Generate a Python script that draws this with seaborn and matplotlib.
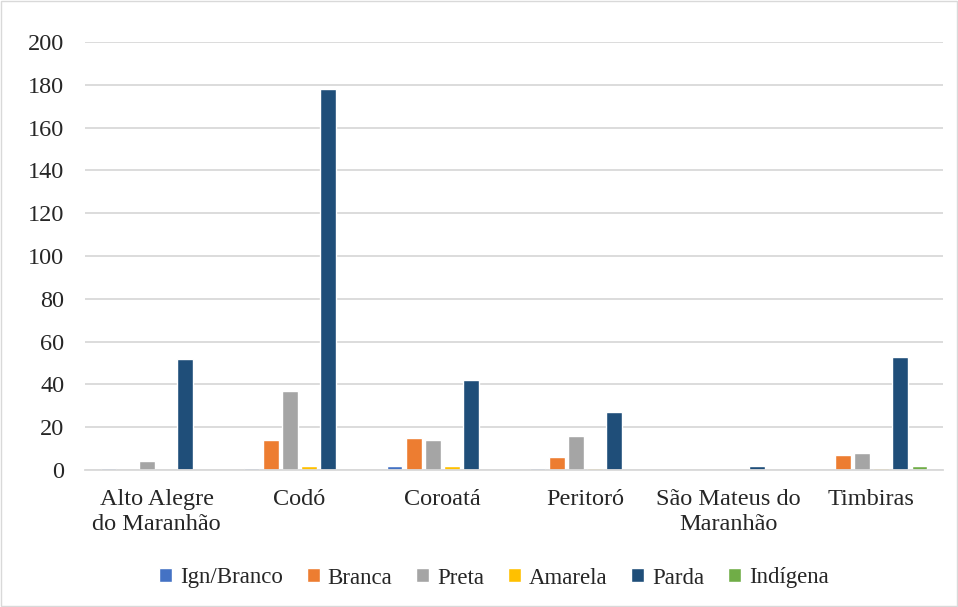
import matplotlib
matplotlib.use("Agg")
import matplotlib.pyplot as plt
import seaborn as sns
import pandas as pd
from matplotlib.patches import Rectangle

municipios = ["Alto Alegre\ndo Maranhão", "Codó", "Coroatá", "Peritoró",
              "São Mateus do\nMaranhão", "Timbiras"]
racas = ["Ign/Branco", "Branca", "Preta", "Amarela", "Parda", "Indígena"]
ign_branco = [1, 1, 2, 1, 0, 0]
branca = [0, 14, 15, 6, 0, 7]
preta = [4, 37, 14, 16, 0, 8]
amarela = [0, 2, 2, 1, 0, 1]
parda = [52, 178, 42, 27, 2, 53]
indigena = [0, 0, 0, 0, 0, 2]
yticks = list(range(0, 201, 20))

cores = ["#4472C4", "#ED7D31", "#A5A5A5", "#FFC000", "#1F4E79", "#70AD47"]

series = [ign_branco, branca, preta, amarela, parda, indigena]
rows = []
for r, vals in zip(racas, series):
    for m, v in zip(municipios, vals):
        rows.append({"Município": m, "Raça": r, "Valor": v})
df = pd.DataFrame(rows)

sns.set_theme(style="white")
plt.rcParams['font.family'] = ['Liberation Serif', 'DejaVu Serif']

FS = 17.5
fig = plt.figure(figsize=(9.58, 6.07), dpi=100)
ax = fig.add_axes([85/958, 137/607, 858/958, 428/607])
sns.barplot(data=df, x="Município", y="Valor", hue="Raça", order=municipios,
            hue_order=racas, palette=cores, width=0.8, gap=0.2, ax=ax,
            saturation=1, errorbar=None, legend=True)

ax.set_ylim(0, 200)
ax.set_yticks(yticks)
ax.set_yticklabels([str(t) for t in yticks], fontsize=FS)
ax.set_xlim(-0.5, len(municipios) - 0.5)
ax.yaxis.grid(True, color="#D9D9D9", linewidth=1.3)
ax.set_axisbelow(True)
for s in ["top", "right", "left"]:
    ax.spines[s].set_visible(False)
ax.spines["bottom"].set_color("#D9D9D9")
ax.spines["bottom"].set_linewidth(1.3)
ax.tick_params(axis="y", length=0, pad=15)
ax.tick_params(axis="x", length=0, labelsize=FS, pad=14)
ax.set_xlabel("")
ax.set_ylabel("")
for lab in ax.get_xticklabels():
    lab.set_verticalalignment("top")
    lab.set_linespacing(1.25)

leg = ax.legend(loc="center", bbox_to_anchor=(494/958, 29/607),
                bbox_transform=fig.transFigure, ncol=6, frameon=False,
                fontsize=16.5, handlelength=0.55, handleheight=0.55,
                handletextpad=0.35, columnspacing=1.05)

fig.patches.append(Rectangle((0.001, 0.001), 0.998, 0.998, transform=fig.transFigure,
                             fill=False, edgecolor="#D9D9D9", linewidth=1))

fig.savefig("out.png", dpi=100)
